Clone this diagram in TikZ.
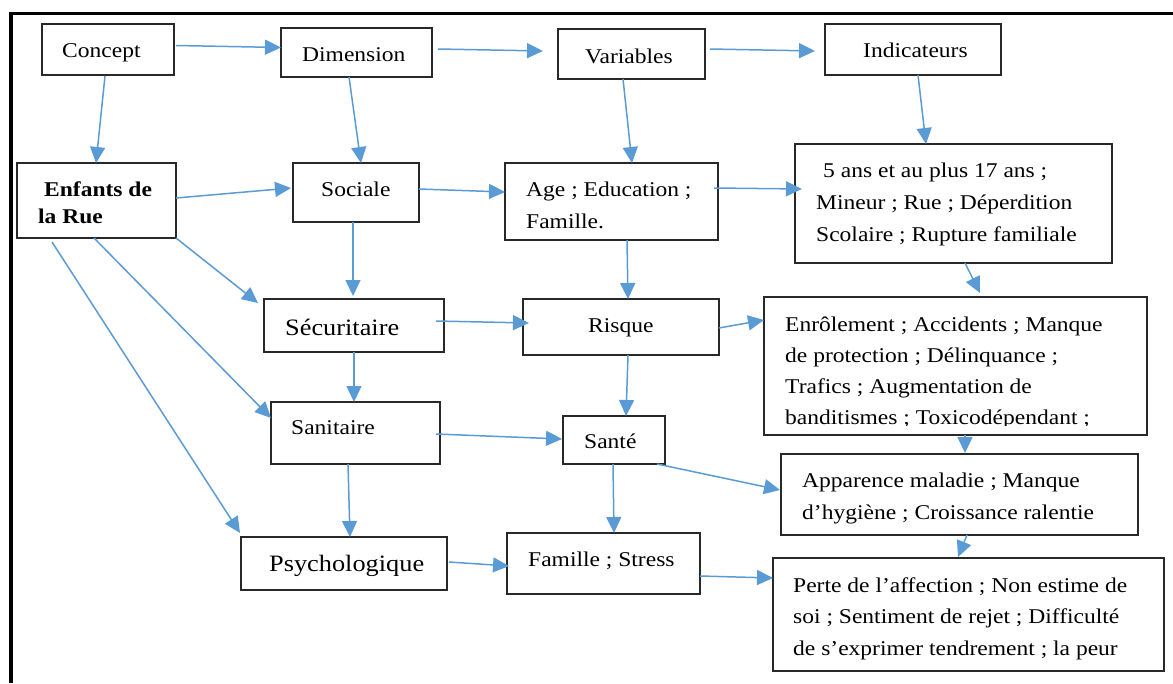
\documentclass[tikz,border=0pt]{standalone}
\usepackage{fontspec}
\setmainfont{Liberation Serif}[FakeStretch=1.12]
\usetikzlibrary{arrows.meta,calc}
\definecolor{arrowblue}{RGB}{91,155,213}
\definecolor{boxline}{RGB}{40,40,40}
% \mkbox{name}{x1}{y1}{x2}{y2}: framed rectangle between two corners
\newcommand\mkbox[5]{%
  \node[box,minimum width={#4-#2},minimum height={#5-#3}] (#1) at ({(#2+#4)/2},{(#3+#5)/2}) {};}
\begin{document}
\begin{tikzpicture}[x=1pt,y=-1pt,
  box/.style={draw=boxline,line width=1.3pt,inner sep=0pt,outer sep=0pt},
  % text is placed by the baseline of its last line
  txt/.style={inner sep=0pt,anchor=base west,align=left,font=\fontsize{21}{32}\selectfont},
  bigtxt/.style={txt,font=\fontsize{23.5}{28}\selectfont},
  arr/.style={draw=arrowblue,line width=1.5pt,-{Triangle[length=16pt,width=15pt]}}]
\useasboundingbox (0,0) rectangle (1173,683);

% outer frame (top and left edges only)
\draw[line width=3.5pt] (10.8,683) -- (10.8,13.5) -- (1173,13.5);

% boxes
\mkbox{concept}{42}{24}{174}{75}
\mkbox{dimension}{281}{28}{432}{77}
\mkbox{variables}{558}{29}{705}{79}
\mkbox{indic}{825}{24}{1001}{75}
\mkbox{enfants}{17}{163}{176}{238}
\mkbox{sociale}{293}{163}{419}{222}
\mkbox{age}{505}{163}{718}{240}
\mkbox{ans}{795}{144}{1112}{263}
\mkbox{secu}{264}{299}{444}{352}
\mkbox{risque}{523}{299}{719}{355}
\mkbox{enrol}{764}{297}{1147}{435}
\mkbox{sanit}{271}{402}{440}{464}
\mkbox{sante}{563}{416}{665}{464}
\mkbox{appar}{781}{454}{1138}{535}
\mkbox{psych}{241}{537}{447}{590}
\mkbox{famille}{507}{533}{700}{594}
\mkbox{perte}{773}{558}{1164}{671}

% texts
\node[txt] (tconcept) at (62,57) {Concept};
\node[txt] (tdimension) at (302,61) {Dimension};
\node[txt] (tvariables) at (585,63) {Variables};
\node[txt] (tindic) at (863,57) {Indicateurs};
\node[txt,font=\fontsize{21}{27}\selectfont\bfseries] (tenfants) at (38,223) {\hspace{6pt}Enfants de\\la Rue};
\node[txt] (tsociale) at (321,196) {Sociale};
\node[txt] (tage) at (526,228) {Age ; Education ;\\Famille.};
\node[txt] (tans) at (816,241) {\hspace{7pt}5 ans et au plus 17 ans ;\\Mineur ; Rue ; Déperdition\\Scolaire ; Rupture familiale};
\node[bigtxt] (tsecu) at (285,335) {Sécuritaire};
\node[txt] (trisque) at (588,332) {Risque};
\begin{scope}
  \clip (764,297) rectangle (1147,425);
  \node[txt,font=\fontsize{21}{31}\selectfont] (tenrol) at (785,424) {Enrôlement ; Accidents ; Manque\\de protection ; Délinquance ;\\Trafics ; Augmentation de\\banditismes ; Toxicodépendant ;};
\end{scope}
\node[txt] (tsanit) at (291,434) {Sanitaire};
\node[txt] (tsante) at (584,448) {Santé};
\node[txt] (tappar) at (802,519) {Apparence maladie ; Manque\\d’hygiène ; Croissance ralentie};
\node[bigtxt] (tpsych) at (269,571) {Psychologique};
\node[txt] (tfamille) at (528,566) {Famille ; Stress};
\node[txt,font=\fontsize{21}{31.5}\selectfont] (tperte) at (793,655) {Perte de l’affection ; Non estime de\\soi ; Sentiment de rejet ; Difficulté\\de s’exprimer tendrement ; la peur};

% connectors
\draw[arr] ($(concept.east)+(2,-4)$) -- ($(dimension.west)+(0,-5)$);
\draw[arr] ($(dimension.east)+(6,-3.5)$) -- ($(variables.west)+(-15,-3)$);
\draw[arr] ($(variables.east)+(5,-5)$) -- ($(indic.west)+(-10,1.5)$);
\draw[arr] ($(concept.south)+(-3,1)$) -- ($(enfants.north)+(-0.5,0)$);
\draw[arr] ($(dimension.south)+(-7.5,0)$) -- ($(sociale.north)+(5,0)$);
\draw[arr] ($(variables.south)+(-8.5,0)$) -- ($(age.north)+(20.5,0)$);
\draw[arr] ($(indic.south)+(5,0)$) -- ($(ans.north)+(-27.5,0)$);
\draw[arr] ($(enfants.east)+(0,-2.5)$) -- ($(sociale.west)+(-2,-4.5)$);
\draw[arr] ($(sociale.east)+(0,-3.5)$) -- ($(age.west)+(0,-9.5)$);
\draw[arr] ($(age.east)+(-4,-13.5)$) -- ($(ans.west)+(7,-14.5)$);
\draw[arr] ($(ans.south)+(11.5,0)$) -- ($(enrol.north)+(24.5,-4)$);
\draw[arr] ($(sociale.south)+(-3,0)$) -- ($(secu.north)+(-1,-3)$);
\draw[arr] (enfants.south east) -- ($(secu.west)+(-6,-22.5)$);
\draw[arr] ($(enfants.south)+(-2.5,0)$) -- ($(sanit.west)+(0,-15)$);
\draw[arr] ($(enfants.south west)+(35,4)$) -- ($(psych.north west)+(-1,-4)$);
\draw[arr] (secu.south) -- ($(sanit.north)+(-1.5,0)$);
\draw[arr] ($(secu.east)+(-8,-4.5)$) -- ($(risque.west)+(6,-4)$);
\draw[arr] ($(risque.east)+(0,1)$) -- ($(enrol.west)+(0,-46)$);
\draw[arr] ($(age.south)+(15.5,0)$) -- ($(risque.north)+(7,0)$);
\draw[arr] ($(risque.south)+(7,0)$) -- ($(sante.north)+(12,0)$);
\draw[arr] ($(sanit.east)+(-4,1)$) -- ($(sante.west)+(-1,-1)$);
\draw[arr] ($(sante.south east)+(-8,0)$) -- ($(appar.west)+(-1,-4.5)$);
\draw[arr] ($(enrol.south)+(9.5,0)$) -- ($(appar.north)+(5.5,-1)$);
\draw[arr] ($(appar.south)+(7.5,0)$) -- ($(perte.north)+(-10.5,-1)$);
\draw[arr] ($(sante.south)+(-1,0)$) -- ($(famille.north)+(10.5,0)$);
\draw[arr] ($(sanit.south)+(-7.5,0)$) -- ($(psych.north)+(6,0)$);
\draw[arr] ($(psych.east)+(2,-1.5)$) -- ($(famille.west)+(2,2.5)$);
\draw[arr] ($(famille.east)+(0,12.5)$) -- ($(perte.west)+(0,-36.5)$);
\end{tikzpicture}
\end{document}
